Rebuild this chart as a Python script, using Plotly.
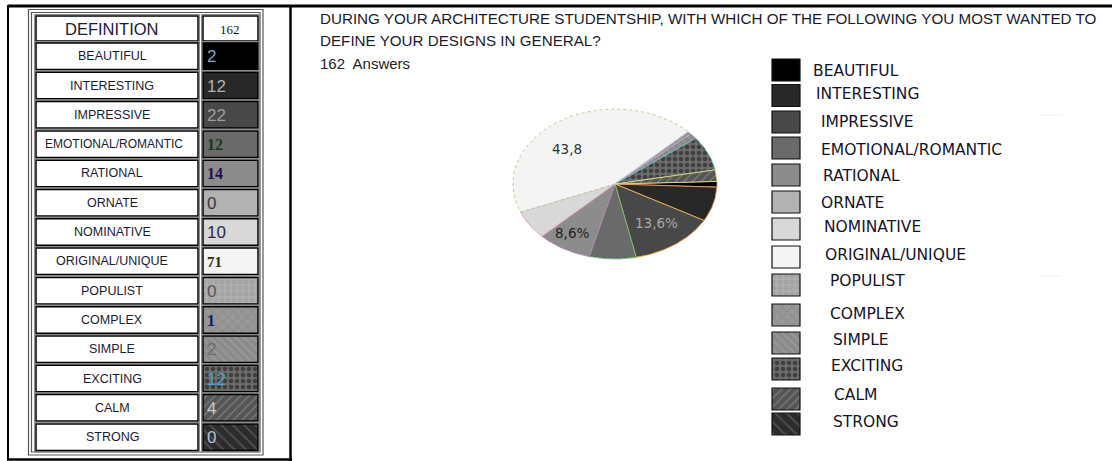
import numpy as np
import plotly.graph_objects as go

# ---------------- data ----------------
categories = ["BEAUTIFUL", "INTERESTING", "IMPRESSIVE", "EMOTIONAL/ROMANTIC", "RATIONAL",
              "ORNATE", "NOMINATIVE", "ORIGINAL/UNIQUE", "POPULIST", "COMPLEX",
              "SIMPLE", "EXCITING", "CALM", "STRONG"]
answers = [2, 12, 22, 12, 14, 0, 10, 71, 0, 1, 2, 12, 4, 0]
total_answers = 162
title_line1 = "DURING YOUR ARCHITECTURE STUDENTSHIP, WITH WHICH OF THE FOLLOWING YOU MOST WANTED TO"
title_line2 = "DEFINE YOUR DESIGNS IN GENERAL?"
answers_label = "162  Answers"
table_header = ["DEFINITION", "162"]
pie_text = {"ORIGINAL/UNIQUE": "43,8", "IMPRESSIVE": "13,6%", "RATIONAL": "8,6%"}

# ---------------- styles ----------------
fills = ["#000000", "#282828", "#484848", "#6a6a6a", "#8c8c8c", "#b2b2b2", "#d8d8d8", "#f4f4f4",
         "#a4a4a4", "#989898", "#8a8a8a", "#6c6c6c", "#555555", "#2c2c2c"]
patterns = [None] * 8 + [
    dict(shape="+", fgcolor="#c8c8c8", size=6, solidity=0.3),
    dict(shape="x", fgcolor="#7c7c7c", size=7, solidity=0.3),
    dict(shape="\\", fgcolor="#a8a8a8", size=6, solidity=0.3),
    dict(shape=".", fgcolor="#111111", size=6, solidity=0.45),
    dict(shape="/", fgcolor="#a8a8a8", size=6, solidity=0.2),
    dict(shape="\\", fgcolor="#7a7a7a", size=8, solidity=0.2),
]
pie_edges = ["#e08060", "#f0a060", "#f0b050", "#70c070", "#c080c0", "#cccccc", "#e0a0c0", "#a8d080",
             "#cccccc", "#c8c8e0", "#c0a0d0", "#60c0c0", "#e0e080", "#cccccc"]
val_colors = ["#7fa8c8", "#b0b0b0", "#a0a0a0", "#1c3a1c", "#2a0e4a", "#3a3a3a", "#2a2a3a",
              "#2a3200", "#555555", "#0e1a6e", "#6a6a6a", "#4aa6d0", "#c8c8c8", "#b8c0d0"]
val_serif = [False, False, False, True, True, False, False, True, False, True, False, False, False, False]
text_col = "#1a1a33"

# legend layout
leg_sw_y = [70, 95.5, 122, 148, 175, 202, 229, 257, 285, 315, 343, 369, 399, 424]
leg_txt_x = [811, 814, 819, 819, 821, 819, 822, 823, 828, 828, 831, 829, 832, 831]
leg_txt_y = [71, 94, 122, 150, 176, 203, 227, 255, 281, 314, 340, 366, 395, 422]

fig = go.Figure()
shapes = []
annotations = []


def rect_trace(x0, x1, y0, y1, color, pattern=None):
    kw = dict(x=[x0, x1, x1, x0, x0], y=[y0, y0, y1, y1, y0], mode="lines", fill="toself",
              fillcolor=color, line=dict(width=0, color=color), hoverinfo="skip", showlegend=False)
    if pattern:
        kw["fillpattern"] = dict(bgcolor=color, **pattern)
    return go.Scatter(**kw)


def box(x0, x1, y0, y1, color, width):
    shapes.append(dict(type="rect", xref="x", yref="y", x0=x0, x1=x1, y0=y0, y1=y1,
                       line=dict(color=color, width=width), fillcolor="rgba(0,0,0,0)"))


def line(x0, y0, x1, y1, color, width):
    shapes.append(dict(type="line", xref="x", yref="y", x0=x0, x1=x1, y0=y0, y1=y1,
                       line=dict(color=color, width=width)))


# ---------------- outer frame ----------------
line(8, 6, 1112, 6, "#000000", 3)
line(8, 5, 8, 460, "#000000", 2)
line(290.5, 5, 290.5, 461, "#000000", 2.5)
line(7, 459.5, 292, 459.5, "#000000", 2.5)

# ---------------- table ----------------
LX0, LX1, VX0, VX1 = 36, 198, 203, 258
box(28.5, 263, 9.5, 455, "#555555", 1.2)
box(31.5, 260, 12.5, 452, "#555555", 1.2)


def cell_border(x0, x1, y0, y1):
    box(x0 - 1.5, x1 + 1.5, y0 - 1.5, y1 + 1.5, "#8a8a8a", 1)
    box(x0, x1, y0, y1, "#000000", 1.5)


hy0, hy1 = 16, 41
fig.add_trace(rect_trace(LX0, LX1, hy0, hy1, "#ffffff"))
fig.add_trace(rect_trace(VX0, VX1, hy0, hy1, "#ffffff"))
cell_border(LX0, LX1, hy0, hy1)
cell_border(VX0, VX1, hy0, hy1)
annotations.append(dict(x=111.5, y=29, text=table_header[0], showarrow=False, xanchor="center",
                        yanchor="middle", font=dict(family="Liberation Sans", size=16.5, color=text_col)))
annotations.append(dict(x=230, y=29, text=table_header[1], showarrow=False, xanchor="center",
                        yanchor="middle", font=dict(family="Liberation Serif", size=13, color="#111111")))

for i, (cat, val) in enumerate(zip(categories, answers)):
    y0 = 43 + 29.3 * i
    y1 = y0 + 26.5
    fig.add_trace(rect_trace(LX0, LX1, y0, y1, "#ffffff"))
    fig.add_trace(rect_trace(VX0, VX1, y0, y1, fills[i], patterns[i]))
    cell_border(LX0, LX1, y0, y1)
    cell_border(VX0, VX1, y0, y1)
    annotations.append(dict(x=114 if len(cat) > 15 else 112, y=(y0 + y1) / 2, text=cat, showarrow=False,
                            xanchor="center", yanchor="middle",
                            font=dict(family="Liberation Sans", size=12.5 if len(cat) < 16 else 12,
                                      color=text_col)))
    if val_serif[i]:
        vf = dict(family="Liberation Serif", size=16 if cat != "ORIGINAL/UNIQUE" else 15,
                  color=val_colors[i], weight="bold")
    else:
        vf = dict(family="Liberation Sans", size=17, color=val_colors[i])
    annotations.append(dict(x=205, y=(y0 + y1) / 2 + 0.5, text=str(val), showarrow=False,
                            xanchor="left", yanchor="middle", font=vf))

# ---------------- titles ----------------
annotations.append(dict(x=318, y=18, text=title_line1, showarrow=False, xanchor="left", yanchor="middle",
                        font=dict(family="Liberation Sans", size=15.2, color="#1a1a2e")))
annotations.append(dict(x=318, y=40, text=title_line2, showarrow=False, xanchor="left", yanchor="middle",
                        font=dict(family="Liberation Sans", size=15.2, color="#1a1a2e")))
annotations.append(dict(x=318, y=63, text=answers_label, showarrow=False, xanchor="left", yanchor="middle",
                        font=dict(family="Liberation Sans", size=15, color="#222222")))

# ---------------- pie (tilted, elliptical) ----------------
cx, cy, ra, rb = 615, 184, 102, 75
start_deg = 2.0
label_r = {"ORIGINAL/UNIQUE": (0.86, 0.55), "IMPRESSIVE": (0.69, 0.65), "RATIONAL": (0.84, 0.76)}
label_col = {"ORIGINAL/UNIQUE": "#333333", "IMPRESSIVE": "#a8a8a8", "RATIONAL": "#222222"}
cum = 0
for i, (cat, val) in enumerate(zip(categories, answers)):
    if val <= 0:
        continue
    t0 = start_deg - cum / total_answers * 360
    t1 = start_deg - (cum + val) / total_answers * 360
    n = max(4, int(abs(t1 - t0) * 1.5))
    tt = np.radians(np.linspace(t0, t1, n))
    xs = np.concatenate([[cx], cx + ra * np.cos(tt), [cx]])
    ys = np.concatenate([[cy], cy - rb * np.sin(tt), [cy]])
    kw = dict(x=xs, y=ys, mode="lines", fill="toself", fillcolor=fills[i],
              line=dict(width=0.9, color=pie_edges[i],
                        dash="dot" if cat == "ORIGINAL/UNIQUE" else "solid"),
              hoverinfo="skip", showlegend=False)
    if patterns[i]:
        kw["fillpattern"] = dict(bgcolor=fills[i], **patterns[i])
    fig.add_trace(go.Scatter(**kw))
    if cat in pie_text:
        tm = np.radians((t0 + t1) / 2)
        fx, fy = label_r[cat]
        annotations.append(dict(x=cx + ra * fx * np.cos(tm), y=cy - rb * fy * np.sin(tm),
                                text=pie_text[cat], showarrow=False, xanchor="center", yanchor="middle",
                                font=dict(family="DejaVu Sans", size=13.5, color=label_col[cat])))
    cum += val

# ---------------- custom legend ----------------
for i, cat in enumerate(categories):
    yc = leg_sw_y[i]
    fig.add_trace(rect_trace(772, 800, yc - 11, yc + 11, fills[i], patterns[i]))
    box(772, 800, yc - 11, yc + 11, "#111111", 1.2)
    annotations.append(dict(x=leg_txt_x[i], y=leg_txt_y[i], text=cat, showarrow=False,
                            xanchor="left", yanchor="middle",
                            font=dict(family="DejaVu Sans", size=15.5, color="#141428")))

# faint separators at the right edge
line(1040, 115, 1062, 115, "#eeeeee", 1)
line(1040, 276, 1062, 276, "#eeeeee", 1)

fig.update_layout(
    width=1112, height=461, autosize=False,
    margin=dict(l=0, r=0, t=0, b=0),
    paper_bgcolor="#ffffff", plot_bgcolor="#ffffff",
    xaxis=dict(range=[0, 1112], visible=False, fixedrange=True),
    yaxis=dict(range=[461, 0], visible=False, fixedrange=True),
    shapes=shapes, annotations=annotations, showlegend=False,
)
fig.write_html("out.html")
